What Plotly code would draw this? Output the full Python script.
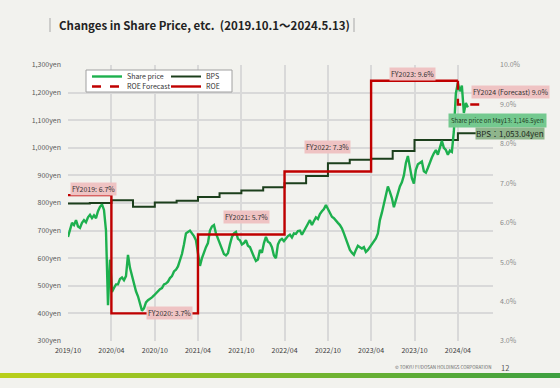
import plotly.graph_objects as go
import pandas as pd

# ---------------- data ----------------
share_start = "2019-10-01"
share_end = "2024-05-13"
share_price = [
    677, 700, 728, 720, 738, 715, 710, 728, 738, 730,
    748, 757, 745, 755, 745, 770, 786, 795, 775, 700,
    430, 595, 478, 492, 505, 505, 525, 530, 520, 535,
    612, 565, 535, 500, 480, 462, 440, 410, 418, 440,
    448, 452, 458, 465, 472, 482, 488, 492, 505, 508,
    515, 528, 535, 552, 558, 570, 595, 615, 650, 690,
    695, 700, 690, 680, 665, 625, 572, 600, 622, 640,
    655, 700, 715, 720, 690, 670, 648, 630, 615, 610,
    618, 650, 677, 690, 695, 670, 665, 650, 655, 665,
    645, 640, 620, 605, 590, 595, 630, 620, 655, 677,
    660, 655, 640, 610, 600, 650, 665, 670, 662, 672,
    680, 685, 675, 690, 688, 698, 700, 685, 700, 710,
    725, 738, 720, 735, 748, 742, 760, 770, 778, 793,
    780, 765, 750, 745, 738, 728, 720, 708, 690, 670,
    648, 630, 620, 612, 630, 645, 640, 635, 640, 623,
    630, 640, 648, 660, 672, 690, 738, 765, 800, 837,
    860, 840, 818, 785, 810, 837, 860, 875, 900, 945,
    970, 930, 890, 870, 920, 940, 945, 950, 915, 910,
    927, 950, 965, 980, 992, 975, 1005, 1025, 1000, 992,
    975, 990, 985, 1060, 1197, 1235, 1205, 1225, 1126, 1162,
    1146.5,
]
share_dates = pd.date_range(share_start, share_end, periods=len(share_price))

bps_dates = ["2019-10-01", "2020-01-01", "2020-04-01", "2020-07-01", "2020-10-01",
             "2021-01-01", "2021-04-01", "2021-07-01", "2021-10-01", "2022-01-01",
             "2022-04-01", "2022-07-01", "2022-10-01", "2023-01-01", "2023-04-01",
             "2023-07-01", "2023-10-01", "2024-01-01", "2024-04-01", "2024-07-01"]
bps_values = [798, 800, 810, 786, 802, 808, 822, 835, 845, 857,
              872, 898, 944, 957, 960, 988, 1028, 1028, 1053.04, 1053.04]

roe_dates = ["2019-10-01", "2020-04-01", "2021-04-01", "2022-04-01", "2023-04-01", "2024-04-01"]
roe_values = [6.7, 3.7, 5.7, 7.3, 9.6, 9.6]
roe_fc_dates = ["2024-04-01", "2024-07-01"]
roe_fc_values = [9.6, 9.0]

roe_labels = ["FY2019: 6.7%", "FY2020: 3.7%", "FY2021: 5.7%", "FY2022: 7.3%",
              "FY2023: 9.6%", "FY2024 (Forecast) 9.0%"]
share_label = "Share price on May13: 1,146.5yen"
bps_label = "BPS：1,053.04yen"
title_text = "Changes in Share Price, etc.  (2019.10.1～2024.5.13)"

x_range = ["2019-10-01", "2024-08-27"]
y_range = [300, 1300]
y2_range = [3, 10]

# ---------------- layout helpers ----------------
W, H = 560, 388
L, R, T, B = 68, 493, 65, 341
FONT = "Noto Sans CJK JP"
BG = "#f2f2ee"

def xp(px):
    return (px - L) / (R - L)

def yp(py):
    return (B - py) / (B - T)

GREEN = "#1db04e"
DKGREEN = "#1c3f1c"
RED = "#c00000"

fig = go.Figure()
fig.add_trace(go.Scatter(x=roe_dates, y=roe_values, yaxis="y2", name="ROE",
                         mode="lines", line=dict(color=RED, width=2.4, shape="hv"),
                         legend="legend2", legendrank=2))
fig.add_trace(go.Scatter(x=roe_fc_dates, y=roe_fc_values, yaxis="y2", name="ROE Forecast",
                         mode="lines", line=dict(color=RED, width=2.4, shape="vh", dash="dash"),
                         legend="legend2", legendrank=1))
fig.add_trace(go.Scatter(x=bps_dates, y=bps_values, name="BPS", mode="lines",
                         line=dict(color=DKGREEN, width=2, shape="hv"),
                         legend="legend", legendrank=2))
fig.add_trace(go.Scatter(x=share_dates, y=share_price, name="Share price", mode="lines",
                         line=dict(color=GREEN, width=2.4),
                         legend="legend", legendrank=1))

shapes = []
# legend box
shapes.append(dict(type="rect", xref="paper", yref="paper", x0=xp(86), x1=xp(232),
                   y0=yp(70), y1=yp(92), fillcolor="white",
                   line=dict(color="#a0a0a0", width=1), layer="above"))
# title bars
for bx in (50, 354):
    shapes.append(dict(type="line", xref="paper", yref="paper", x0=xp(bx), x1=xp(bx),
                       y0=yp(18), y1=yp(32), line=dict(color="#a8a8a8", width=1)))
# gradient footer bar
n_seg = 56
c0 = (184, 207, 26)
c1 = (62, 160, 64)
for i in range(n_seg):
    t = i / (n_seg - 1)
    c = tuple(round(c0[k] + (c1[k] - c0[k]) * t) for k in range(3))
    x0 = i * W / n_seg
    x1 = (i + 1) * W / n_seg + 0.5
    shapes.append(dict(type="rect", xref="paper", yref="paper", x0=xp(x0), x1=xp(x1),
                       y0=yp(378), y1=yp(373), fillcolor="rgb(%d,%d,%d)" % c,
                       line=dict(width=0), layer="above"))

annotations = []
PINK = "#efc3c3"
lab_pos = [(93.5, 188.5), (169.5, 312.5), (246, 217), (327.5, 146.5), (412.5, 74), (510, 92)]
for text, (px, py) in zip(roe_labels, lab_pos):
    annotations.append(dict(text=text, xref="paper", yref="paper", x=xp(px), y=yp(py),
                            xanchor="center", yanchor="middle",
                            showarrow=False, bgcolor=PINK, borderpad=1,
                            font=dict(family=FONT, size=7, color="#333333")))
annotations.append(dict(text=share_label, xref="paper", yref="paper", x=xp(497), y=yp(120),
                        xanchor="center", yanchor="middle",
                        showarrow=False, bgcolor="#74c98f", borderpad=2,
                        font=dict(family=FONT, size=6, color="#1e3a1e")))
annotations.append(dict(text=bps_label, xref="paper", yref="paper", x=xp(510), y=yp(133),
                        xanchor="center", yanchor="middle",
                        showarrow=False, bgcolor="#8fb58c", borderpad=0,
                        font=dict(family=FONT, size=8, color="#1e2a1e")))
annotations.append(dict(text=title_text, xref="paper", yref="paper", x=xp(57), y=yp(25),
                        xanchor="left", yanchor="middle", showarrow=False,
                        font=dict(family=FONT, size=11.5, color="#222222", weight="bold")))
annotations.append(dict(text="© TOKYU FUDOSAN HOLDINGS CORPORATION", xref="paper", yref="paper",
                        x=xp(493), y=yp(367), xanchor="right", yanchor="middle", showarrow=False,
                        font=dict(family=FONT, size=4.5, color="#666666")))
annotations.append(dict(text="12", xref="paper", yref="paper", x=xp(499), y=yp(367),
                        xanchor="left", yanchor="middle", showarrow=False,
                        font=dict(family=FONT, size=7.5, color="#555555")))

fig.update_layout(
    width=W, height=H,
    margin=dict(l=L, r=W - R, t=T, b=H - B, pad=0),
    paper_bgcolor=BG, plot_bgcolor=BG,
    font=dict(family=FONT, size=7, color="#444444"),
    xaxis=dict(type="date", range=x_range, tick0="2019-10-01", dtick="M6",
               tickformat="%Y/%m", showgrid=True, gridcolor="#d9d9d9", gridwidth=1.5,
               zeroline=False, showline=False, ticks="", ticklabelstandoff=4,
               tickfont=dict(family=FONT, size=7, color="#3a3a3a")),
    yaxis=dict(range=y_range, dtick=100, tickformat=",d", ticksuffix="yen",
               showgrid=True, gridcolor="#d9d9d9", gridwidth=1.5, zeroline=False,
               showline=False, ticks="", ticklabelstandoff=6,
               tickfont=dict(family=FONT, size=7, color="#595959")),
    yaxis2=dict(range=y2_range, dtick=1, tickformat=".1f", ticksuffix="%",
                overlaying="y", side="right", showgrid=False, zeroline=False,
                showline=False, ticks="", ticklabelstandoff=6,
                tickfont=dict(family=FONT, size=7, color="#8a8a8a")),
    legend=dict(x=xp(87), y=yp(62), xanchor="left", yanchor="top", orientation="h",
                bgcolor="rgba(0,0,0,0)", borderwidth=0, entrywidth=34, entrywidthmode="pixels",
                font=dict(family=FONT, size=7, color="#333333")),
    legend2=dict(x=xp(87), y=yp(72), xanchor="left", yanchor="top", orientation="h",
                 bgcolor="rgba(0,0,0,0)", borderwidth=0, entrywidth=34, entrywidthmode="pixels",
                 font=dict(family=FONT, size=7, color="#333333")),
    shapes=shapes,
    annotations=annotations,
    hovermode=False,
)

fig.write_html(
    "out.html",
    config={"displayModeBar": False},
    post_script="document.body.style.margin='0';document.body.style.background='%s';" % BG,
)
